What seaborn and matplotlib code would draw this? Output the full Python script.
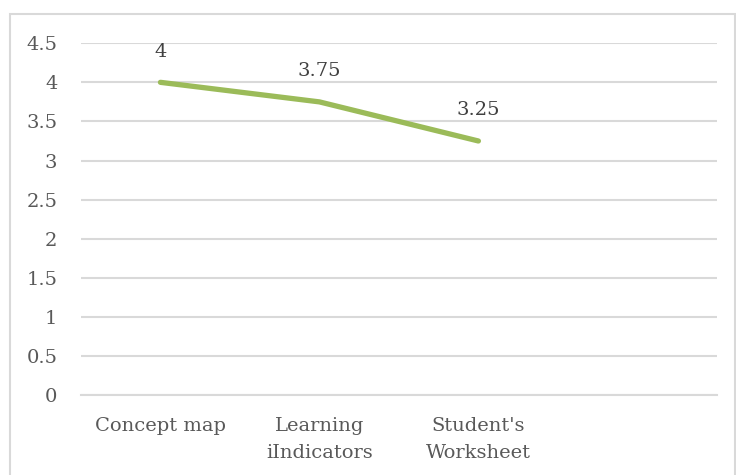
import matplotlib
matplotlib.use("Agg")
import pandas as pd
import seaborn as sns
import matplotlib.pyplot as plt
from matplotlib.patches import Rectangle

categories = ["Concept map", "Learning\niIndicators", "Student's\nWorksheet", ""]
scores = [4, 3.75, 3.25]
value_labels = ["4", "3.75", "3.25"]
y_ticks = [0, 0.5, 1, 1.5, 2, 2.5, 3, 3.5, 4, 4.5]
y_tick_labels = ["0", "0.5", "1", "1.5", "2", "2.5", "3", "3.5", "4", "4.5"]

df = pd.DataFrame({"pos": range(len(scores)), "score": scores})

sns.set_style("white")
plt.rcParams["font.family"] = ["DejaVu Serif", "Liberation Serif"]

fig = plt.figure(figsize=(7.36, 4.75), dpi=100)
ax = fig.add_axes([0.110, 0.168, 0.864, 0.741])

# outer chart border
fig.patches.append(Rectangle((10 / 736, -0.01), 725 / 736, 0.9805,
                             transform=fig.transFigure, fill=False,
                             edgecolor="#d9d9d9", linewidth=1.5))

sns.lineplot(data=df, x="pos", y="score", ax=ax, color="#9bbb59",
             linewidth=3.8, solid_capstyle="round")

for x, y, lab in zip(df["pos"], df["score"], value_labels):
    ax.annotate(lab, (x, y), xytext=(0, 22), textcoords="offset points",
                ha="center", va="center", fontsize=14, color="#404040")

ax.set_xlim(-0.5, len(categories) - 0.5)
ax.set_ylim(0, 4.5)
ax.set_xticks(range(len(categories)))
ax.set_xticklabels(categories, fontsize=14, color="#595959", linespacing=1.6)
ax.set_yticks(y_ticks)
ax.set_yticklabels(y_tick_labels, fontsize=14, color="#595959")
ax.yaxis.grid(True, color="#d9d9d9", linewidth=1.5)
ax.tick_params(axis="both", length=0)
ax.tick_params(axis="x", pad=16)
ax.tick_params(axis="y", pad=17)
ax.set_xlabel("")
ax.set_ylabel("")
for side in ["top", "right", "left"]:
    ax.spines[side].set_visible(False)
ax.spines["bottom"].set_color("#d9d9d9")
ax.spines["bottom"].set_linewidth(1.5)

fig.savefig("out.png", dpi=100)
